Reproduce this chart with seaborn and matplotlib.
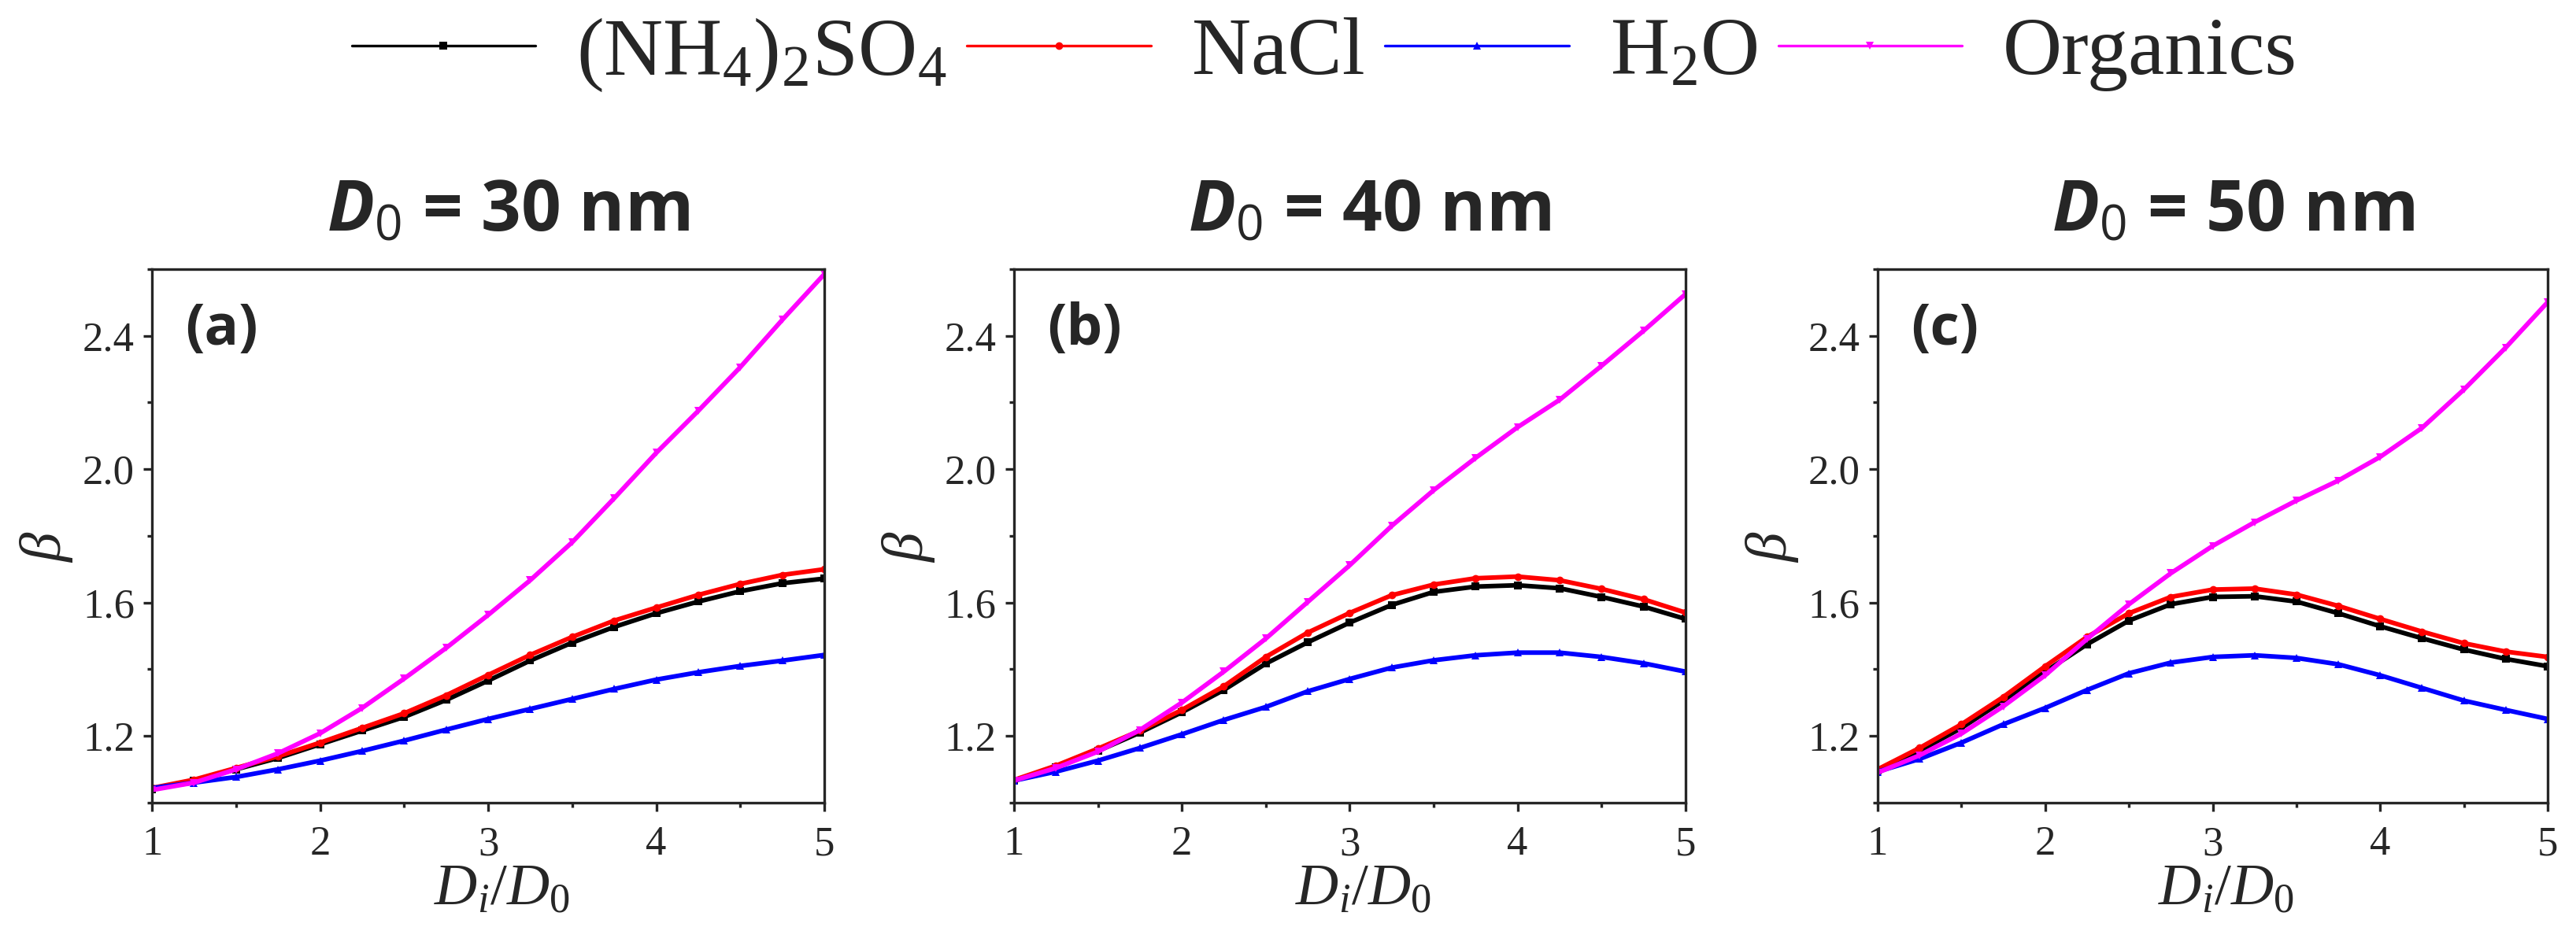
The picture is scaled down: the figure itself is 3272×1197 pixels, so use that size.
import pandas as pd
import matplotlib.pyplot as plt
from matplotlib.lines import Line2D
from matplotlib.ticker import MultipleLocator, FormatStrFormatter
import seaborn as sns

# Di/D0 grid (read every 0.25)
ratio = [1.0, 1.25, 1.5, 1.75, 2.0, 2.25, 2.5, 2.75, 3.0,
         3.25, 3.5, 3.75, 4.0, 4.25, 4.5, 4.75, 5.0]

# D0 = 30 nm
amm_30 = [1.040, 1.067, 1.100, 1.134, 1.175, 1.216, 1.257, 1.308, 1.366,
          1.426, 1.480, 1.527, 1.568, 1.603, 1.634, 1.658, 1.672]
nacl_30 = [1.044, 1.069, 1.104, 1.139, 1.180, 1.224, 1.268, 1.322, 1.383,
           1.443, 1.497, 1.546, 1.585, 1.623, 1.656, 1.683, 1.700]
water_30 = [1.044, 1.060, 1.077, 1.100, 1.126, 1.155, 1.186, 1.219, 1.251,
            1.281, 1.311, 1.341, 1.369, 1.391, 1.410, 1.426, 1.443]
org_30 = [1.038, 1.060, 1.100, 1.148, 1.208, 1.284, 1.372, 1.464, 1.563,
          1.667, 1.781, 1.913, 2.049, 2.175, 2.306, 2.448, 2.585]

# D0 = 40 nm
amm_40 = [1.066, 1.107, 1.155, 1.210, 1.271, 1.338, 1.417, 1.481, 1.540,
          1.593, 1.632, 1.648, 1.652, 1.643, 1.617, 1.588, 1.551]
nacl_40 = [1.068, 1.111, 1.162, 1.216, 1.278, 1.349, 1.437, 1.510, 1.569,
           1.622, 1.654, 1.673, 1.678, 1.667, 1.641, 1.610, 1.570]
water_40 = [1.066, 1.093, 1.126, 1.164, 1.205, 1.248, 1.287, 1.334, 1.371,
            1.405, 1.427, 1.442, 1.450, 1.450, 1.437, 1.418, 1.393]
org_40 = [1.066, 1.104, 1.153, 1.218, 1.300, 1.393, 1.492, 1.602, 1.712,
          1.830, 1.937, 2.034, 2.126, 2.208, 2.310, 2.415, 2.525]

# D0 = 50 nm
amm_50 = [1.096, 1.155, 1.224, 1.306, 1.393, 1.475, 1.546, 1.595, 1.617,
          1.619, 1.603, 1.568, 1.529, 1.493, 1.459, 1.431, 1.409]
nacl_50 = [1.100, 1.164, 1.235, 1.317, 1.409, 1.497, 1.568, 1.617, 1.639,
           1.642, 1.624, 1.590, 1.551, 1.513, 1.478, 1.453, 1.437]
water_50 = [1.093, 1.131, 1.180, 1.235, 1.284, 1.338, 1.388, 1.420, 1.437,
            1.442, 1.434, 1.415, 1.382, 1.344, 1.306, 1.278, 1.251]
org_50 = [1.090, 1.142, 1.207, 1.289, 1.382, 1.491, 1.595, 1.688, 1.770,
          1.841, 1.906, 1.966, 2.037, 2.124, 2.239, 2.365, 2.501]

species = ['(NH$_4$)$_2$SO$_4$', 'NaCl', 'H$_2$O', 'Organics']
colors = ['#000000', '#ff0000', '#0000ff', '#ff00ff']
marks = ['s', 'o', '^', 'v']

panels = [
    ('(a)', '30', [amm_30, nacl_30, water_30, org_30]),
    ('(b)', '40', [amm_40, nacl_40, water_40, org_40]),
    ('(c)', '50', [amm_50, nacl_50, water_50, org_50]),
]

sns.set_style('ticks')
plt.rcParams['font.family'] = ['Liberation Serif', 'DejaVu Sans']
plt.rcParams['mathtext.fontset'] = 'custom'
plt.rcParams['mathtext.rm'] = 'Liberation Serif'
plt.rcParams['mathtext.it'] = 'Liberation Serif:italic'
plt.rcParams['mathtext.bf'] = 'Open Sans:bold'
plt.rcParams['mathtext.bfit'] = 'Open Sans:italic:bold'
plt.rcParams['mathtext.sf'] = 'Open Sans'
plt.rcParams['mathtext.fallback'] = 'stix'

fig = plt.figure(figsize=(32.73, 11.97), dpi=100)
lefts = [0.0590, 0.3935, 0.7287]
widths = [0.2609, 0.2606, 0.2600]

palette = dict(zip(species, colors))
marker_map = dict(zip(species, marks))

for (letter, d0, series), left, width in zip(panels, lefts, widths):
    ax = fig.add_axes([left, 0.1479, width, 0.5664])
    df = pd.DataFrame({
        'ratio': ratio * 4,
        'beta': series[0] + series[1] + series[2] + series[3],
        'species': [s for s in species for _ in ratio],
    })
    sns.lineplot(data=df, x='ratio', y='beta', hue='species', style='species',
                 hue_order=species, style_order=species, palette=palette,
                 markers=marker_map, dashes=False, legend=False, ax=ax,
                 linewidth=4.2, markersize=7, markeredgewidth=0)

    ax.set_xlim(1, 5)
    ax.set_ylim(1.0, 2.6)
    ax.set_xticks([1, 2, 3, 4, 5])
    ax.set_yticks([1.2, 1.6, 2.0, 2.4])
    ax.xaxis.set_minor_locator(MultipleLocator(0.5))
    ax.yaxis.set_minor_locator(MultipleLocator(0.2))
    ax.yaxis.set_major_formatter(FormatStrFormatter('%.1f'))
    ax.tick_params(which='major', direction='out', length=8, width=2.4,
                   labelsize=38)
    ax.tick_params(which='minor', direction='out', length=4, width=2.4)
    ax.tick_params(axis='x', pad=13)
    ax.tick_params(axis='y', pad=8)
    for sp in ax.spines.values():
        sp.set_linewidth(2.4)

    ax.set_xlabel(r'$D_i/D_0$', fontsize=54)
    ax.xaxis.set_label_coords(0.52, -0.115)
    ax.set_ylabel(r'$\beta$', fontsize=54)
    ax.yaxis.set_label_coords(-0.115, 0.48)

    ax.text(0.53, 1.072, r'$\mathbfit{D}_{\mathsf{0}}$ = ' + d0 + ' nm',
            transform=ax.transAxes, ha='center', va='baseline',
            fontsize=64, fontfamily='Open Sans', fontweight='bold')
    ax.text(0.049, 0.94, letter, transform=ax.transAxes, ha='left', va='top',
            fontsize=52, fontfamily='Open Sans', fontweight='bold')

handles = [Line2D([], [], color=c, marker=m, lw=2.4, markersize=7,
                  markeredgewidth=0) for c, m in zip(colors, marks)]
fig.legend(handles, species, loc='center', bbox_to_anchor=(0.514, 0.942),
           ncol=4, frameon=False, fontsize=75, handlelength=2.24,
           handletextpad=0.5, columnspacing=0.25)

fig.savefig('out.png', dpi=100)
